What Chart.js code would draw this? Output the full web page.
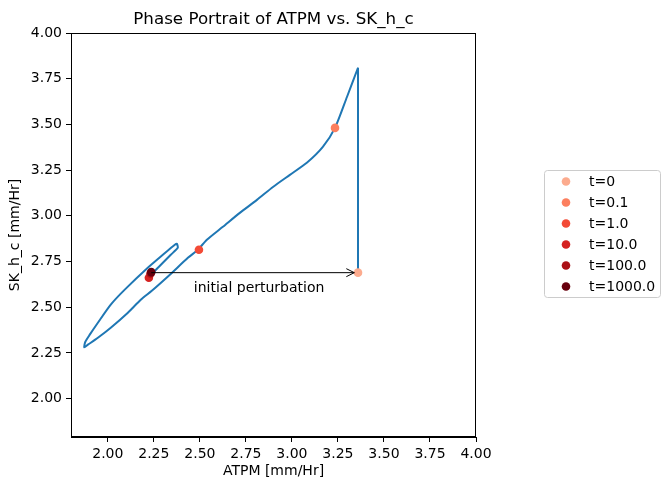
<!DOCTYPE html>
<html>
<head>
<meta charset="utf-8">
<script src="https://cdn.jsdelivr.net/npm/chart.js@4.4.1/dist/chart.umd.min.js"></script>
<style>
  html, body { margin: 0; padding: 0; background: #fff; }
</style>
</head>
<body>
<canvas id="phase" width="669" height="490"></canvas>
<script>
// --- data ---
const xTicks = [2.0, 2.25, 2.5, 2.75, 3.0, 3.25, 3.5, 3.75, 4.0];
const yTicks = [2.0, 2.25, 2.5, 2.75, 3.0, 3.25, 3.5, 3.75, 4.0];

// trajectory: perturbed start, jump up, then spiral back to the fixed point
const pathX = [3.359, 3.359, 3.299, 3.234, 3.168, 3.081, 2.989, 2.897, 2.810, 2.717, 2.625, 2.538, 2.489,
  2.435, 2.337, 2.239, 2.179, 2.109, 2.016, 1.946, 1.892, 1.872, 1.878, 1.902, 1.946, 2.016, 2.092,
  2.217, 2.299, 2.364, 2.375, 2.380, 2.342, 2.299, 2.272, 2.226, 2.217, 2.234];
const pathY = [2.689, 3.810, 3.650, 3.481, 3.377, 3.290, 3.224, 3.158, 3.087, 3.016, 2.940, 2.869, 2.814,
  2.770, 2.678, 2.590, 2.541, 2.470, 2.388, 2.333, 2.295, 2.281, 2.311, 2.350, 2.415, 2.514, 2.596,
  2.716, 2.787, 2.842, 2.847, 2.825, 2.787, 2.743, 2.716, 2.667, 2.655, 2.689];

const snapLabels = ["t=0", "t=0.1", "t=1.0", "t=10.0", "t=100.0", "t=1000.0"];
const snapX = [3.359, 3.234, 2.495, 2.223, 2.232, 2.236];
const snapY = [2.689, 3.481, 2.814, 2.661, 2.684, 2.692];

const snapColors = ["#fcab8e", "#fc7f5f", "#f34a36", "#d52221", "#ab1016", "#67000d"];
const FONT = "'DejaVu Sans', sans-serif";

const pts = (xs, ys) => xs.map((x, i) => ({ x, y: ys[i] }));

// the jump is a straight segment, the rest is smoothed
const datasets = [
  {
    data: pts(pathX.slice(0, 2), pathY.slice(0, 2)),
    showLine: true, borderColor: "#1f77b4", borderWidth: 2, pointRadius: 0, tension: 0, order: 20
  },
  {
    data: pts(pathX.slice(1), pathY.slice(1)),
    showLine: true, borderColor: "#1f77b4", borderWidth: 2, pointRadius: 0, tension: 0.22, order: 19
  },
  // initial perturbation arrow: from the fixed point to the t=0 state
  {
    data: [{ x: snapX[5], y: snapY[0] }, { x: snapX[0] - 0.02, y: snapY[0] }],
    showLine: true, borderColor: "#000", borderWidth: 1, pointRadius: 0, order: 0
  }
];
snapLabels.forEach((lab, i) => {
  datasets.push({
    label: lab,
    data: [{ x: snapX[i], y: snapY[i] }],
    pointRadius: 4.3, pointBorderWidth: 0,
    backgroundColor: snapColors[i], borderColor: snapColors[i],
    order: 10 - i
  });
});

const decor = {
  id: "decor",
  afterDatasetsDraw(chart) {
    const ctx = chart.ctx;
    const xs = chart.scales.x, ys = chart.scales.y;
    // arrow head
    const tipX = xs.getPixelForValue(snapX[0] - 0.02);
    const tipY = ys.getPixelForValue(snapY[0]);
    ctx.save();
    ctx.strokeStyle = "#000";
    ctx.lineWidth = 1;
    ctx.beginPath();
    ctx.moveTo(tipX - 8, tipY - 4);
    ctx.lineTo(tipX, tipY);
    ctx.lineTo(tipX - 8, tipY + 4);
    ctx.stroke();
    // annotation text
    ctx.fillStyle = "#000";
    ctx.font = "14px " + FONT;
    ctx.textAlign = "left";
    ctx.textBaseline = "alphabetic";
    ctx.fillText("initial perturbation", xs.getPixelForValue(2.467), ys.getPixelForValue(2.585));
    ctx.restore();
  },
  afterDraw(chart) {
    const ctx = chart.ctx;
    const a = chart.chartArea;
    ctx.save();
    // full frame
    ctx.strokeStyle = "#000";
    ctx.lineWidth = 1;
    ctx.strokeRect(Math.round(a.left) + 0.5, Math.round(a.top) + 0.5,
      Math.round(a.right - a.left) - 1, Math.round(a.bottom - a.top) - 1);
    // title
    ctx.fillStyle = "#000";
    ctx.font = "16.7px " + FONT;
    ctx.textAlign = "center";
    ctx.textBaseline = "alphabetic";
    ctx.fillText("Phase Portrait of ATPM vs. SK_h_c", (a.left + a.right) / 2, 24);
    // legend box
    const bx = 544.5, by = 170.5, bw = 116, bh = 127;
    ctx.beginPath();
    ctx.roundRect(bx, by, bw, bh, 3);
    ctx.fillStyle = "rgba(255,255,255,0.8)";
    ctx.fill();
    ctx.strokeStyle = "#cccccc";
    ctx.stroke();
    ctx.font = "14px " + FONT;
    ctx.textAlign = "left";
    ctx.textBaseline = "middle";
    chart.data.datasets.filter(d => d.label).forEach((d, i) => {
      const cy = 181.5 + i * 21;
      ctx.beginPath();
      ctx.arc(566, cy, 4.3, 0, Math.PI * 2);
      ctx.fillStyle = d.backgroundColor;
      ctx.fill();
      ctx.fillStyle = "#000";
      ctx.fillText(d.label, 589, cy + 1);
    });
    ctx.restore();
  }
};

const axisCommon = {
  type: "linear",
  grid: { display: true, drawOnChartArea: false, drawTicks: true, tickLength: 5, tickColor: "#000", tickWidth: 1 },
  border: { display: true, color: "#000", width: 1 },
  ticks: { color: "#000", font: { family: FONT, size: 14 }, padding: 4, autoSkip: false, maxRotation: 0,
    callback: v => v.toFixed(2) }
};

new Chart(document.getElementById("phase"), {
  type: "scatter",
  data: { datasets },
  options: {
    responsive: false,
    animation: false,
    events: [],
    layout: { padding: { top: 33, right: 193, left: 0, bottom: 0 } },
    plugins: { legend: { display: false }, tooltip: { enabled: false }, title: { display: false } },
    scales: {
      x: {
        ...axisCommon, min: 1.8, max: 4.0,
        afterBuildTicks: s => { s.ticks = xTicks.map(v => ({ value: v })); },
        afterFit: s => { s.height = 53; },
        title: { display: true, text: "ATPM [mm/Hr]", color: "#000", font: { family: FONT, size: 14 }, padding: { top: 2, bottom: 10 } }
      },
      y: {
        ...axisCommon, min: 1.79, max: 4.0,
        afterBuildTicks: s => { s.ticks = yTicks.map(v => ({ value: v })); },
        afterFit: s => { s.width = 71; },
        title: { display: true, text: "SK_h_c [mm/Hr]", color: "#000", font: { family: FONT, size: 14 }, padding: { top: 7, bottom: 2 } }
      }
    }
  },
  plugins: [decor]
});
</script>
</body>
</html>
